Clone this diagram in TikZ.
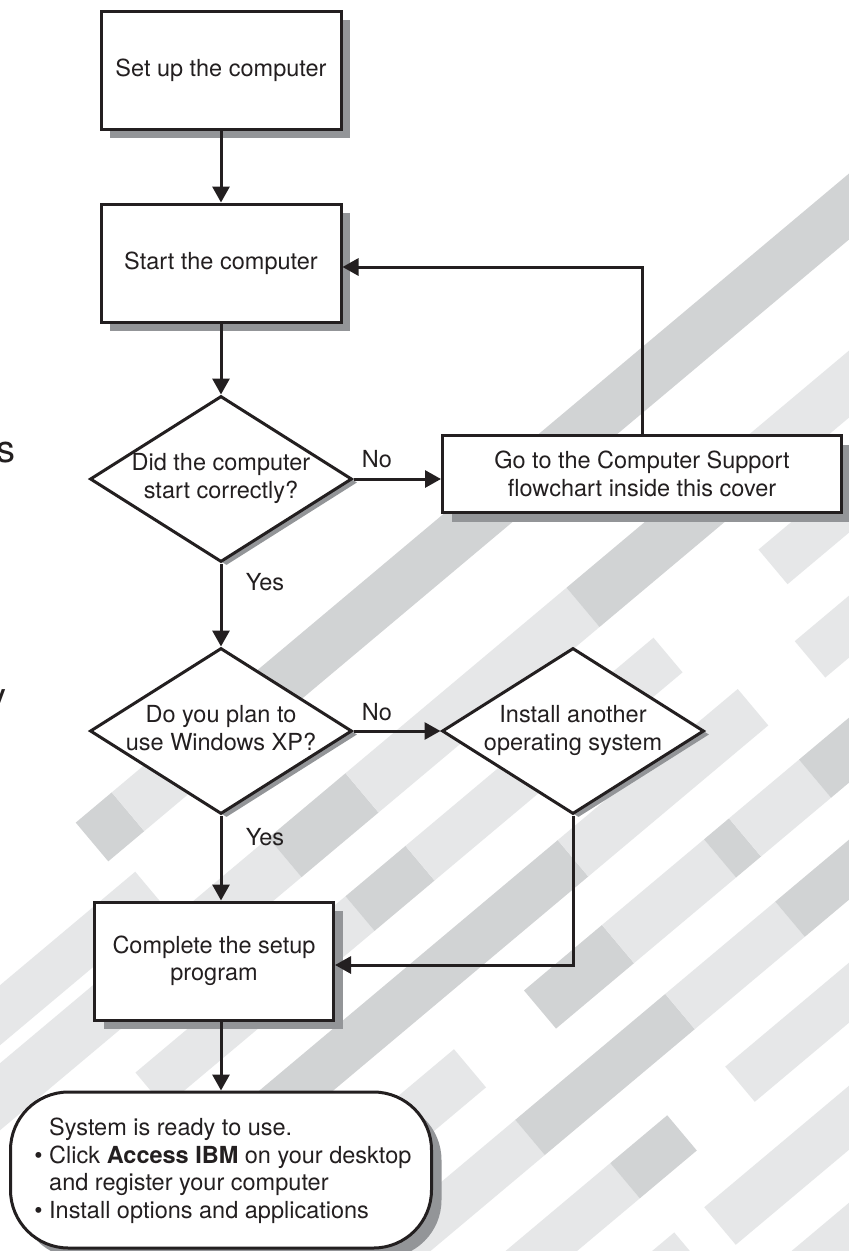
\documentclass[tikz,border=0pt]{standalone}
\usepackage{fontspec}
\setmainfont{TeX Gyre Heros}
\usetikzlibrary{arrows.meta,shapes.geometric,shadows}
\definecolor{ink}{HTML}{231F20}
\definecolor{shade}{HTML}{939598}
\definecolor{stripeD}{HTML}{D1D3D4}
\definecolor{stripeL}{HTML}{E6E7E8}
\newcommand\mainfs{\fontsize{23.5}{27.5}\selectfont}
\newcommand\bigfs{\fontsize{38}{44}\selectfont}
\newcommand\dtext[1]{\makebox[120pt]{\begin{tabular}{@{}c@{}}#1\end{tabular}}}
% stripe piece: colour, c1, c2 (c = y + 0.839 x), x of the two ends on the mid line
\newcommand\bgstripe[5]{%
  \pgfmathsetmacro\stM{(#2+#3)/2}%
  \pgfmathsetmacro\stUa{1.3055*#4-0.643*\stM}%
  \pgfmathsetmacro\stUb{1.3055*#5-0.643*\stM}%
  \pgfmathsetmacro\stVa{0.766*#2}%
  \pgfmathsetmacro\stVb{0.766*#3}%
  \fill[#1] ({0.766*\stUa+0.643*\stVa},{-0.643*\stUa+0.766*\stVa})
    -- ({0.766*\stUb+0.643*\stVa},{-0.643*\stUb+0.766*\stVa})
    -- ({0.766*\stUb+0.643*\stVb},{-0.643*\stUb+0.766*\stVb})
    -- ({0.766*\stUa+0.643*\stVb},{-0.643*\stUa+0.766*\stVb}) -- cycle;}
\begin{document}
\begin{tikzpicture}[x=1pt,y=-1pt,
  proc/.style={rectangle, draw=ink, line width=3pt, fill=white, text=ink,
    minimum width=240pt, minimum height=118pt, inner sep=0pt, align=center, font=\mainfs,
    drop shadow={shadow xshift=9pt, shadow yshift=-9pt, fill=shade, opacity=1}},
  decision/.style={diamond, aspect=1.57, draw=ink, line width=3pt, fill=white, text=ink,
    minimum width=262pt, minimum height=166pt, inner sep=0pt, font=\mainfs,
    drop shadow={shadow xshift=5.5pt, shadow yshift=-3.5pt, fill=shade, opacity=1}},
  endbox/.style={rectangle, rounded corners=58pt, draw=ink, line width=3pt, fill=white,
    minimum width=421pt, minimum height=156pt, inner sep=0pt,
    drop shadow={shadow xshift=10pt, shadow yshift=-10pt, fill=shade, opacity=1}},
  conn/.style={draw=ink, line width=3pt, -{Triangle[width=17pt,length=16pt]}},
  lbl/.style={text=ink, font=\mainfs, inner sep=0pt},
  frag/.style={text=ink, font=\bigfs, inner sep=0pt}]
\useasboundingbox (0,0) rectangle (849,1251);
\fill[white] (0,0) rectangle (849,1251);
\begin{scope}
\clip (0,0) rectangle (849,1251);
% band A
\bgstripe{stripeD}{886}{952}{92}{128}
\bgstripe{stripeL}{886}{952}{128}{230}
\bgstripe{stripeD}{886}{952}{230}{950}
% band between A and B (left only)
\bgstripe{stripeL}{985}{1045}{-100}{150}
% band B
\bgstripe{stripeL}{1063}{1130}{-100}{285}
\bgstripe{stripeD}{1063}{1130}{285}{362}
\bgstripe{stripeL}{1063}{1130}{362}{583}
\bgstripe{stripeD}{1063}{1130}{583}{740}
\bgstripe{stripeL}{1063}{1130}{740}{950}
% band C
\bgstripe{stripeL}{1186}{1245}{150}{360}
\bgstripe{stripeD}{1186}{1245}{360}{420}
\bgstripe{stripeL}{1186}{1245}{420}{668}
\bgstripe{stripeL}{1186}{1245}{773}{950}
% band H
\bgstripe{stripeD}{1308}{1370}{200}{573}
\bgstripe{stripeL}{1308}{1370}{573}{753}
\bgstripe{stripeL}{1308}{1370}{810}{950}
% band G
\bgstripe{stripeL}{1430}{1495}{300}{470}
\bgstripe{stripeD}{1430}{1495}{540}{618}
\bgstripe{stripeL}{1430}{1495}{618}{720}
\bgstripe{stripeD}{1430}{1495}{720}{745}
\bgstripe{stripeL}{1430}{1495}{745}{815}
\bgstripe{stripeD}{1430}{1495}{815}{950}
% band D
\bgstripe{stripeL}{1552}{1612}{330}{530}
\bgstripe{stripeD}{1552}{1612}{530}{680}
\bgstripe{stripeL}{1552}{1612}{680}{790}
\bgstripe{stripeD}{1552}{1612}{790}{950}
% band E
\bgstripe{stripeL}{1675}{1735}{380}{625}
\bgstripe{stripeD}{1675}{1735}{625}{682}
\bgstripe{stripeL}{1675}{1735}{740}{950}
% band F
\bgstripe{stripeL}{1798}{1862}{560}{690}
\bgstripe{stripeL}{1798}{1862}{720}{950}
% band I
\bgstripe{stripeL}{1915}{1980}{780}{950}
\end{scope}

% cut-off text at the left edge
\node[frag, anchor=base east] (fragS) at (16,462) {s};
\node[frag, anchor=base east] (fragY) at (7,709) {y};

% nodes
\node[proc] (b1) at (221,70) {Set up the computer};
\node[proc] (b2) at (221,263) {Start the computer};
\node[decision] (d1) at (221,479) {\dtext{Did the computer\\start correctly?}};
\node[proc, minimum width=399pt, minimum height=77pt] (b3) at (642,474)
  {Go to the Computer Support\\flowchart inside this cover};
\node[decision] (d2) at (221,731) {\dtext{Do you plan to\\use Windows XP?}};
\node[decision] (d3) at (573,731) {\dtext{Install another\\operating system}};
\node[proc, minimum width=239pt] (b4) at (214,961) {Complete the setup\\program};
\node[endbox] (done) at (221,1170) {};
\node[lbl, anchor=west, align=left] (donetxt) at (49,1171)
  {System is ready to use.\\
   \llap{\textbullet\ }Click \textbf{Access IBM} on your desktop\\
   and register your computer\\
   \llap{\textbullet\ }Install options and applications};

% labels
\node[lbl] (no1) at (377,459) {No};
\node[lbl] (yes1) at (265,582) {Yes};
\node[lbl] (no2) at (377,712) {No};
\node[lbl] (yes2) at (265,837) {Yes};

% connectors
\draw[conn] (b1) -- (b2);
\draw[conn] (b2) -- (d1);
\draw[conn] (d1.east) -- (d1.east -| b3.west);
\draw[conn] (b3.north) |- ([yshift=-4pt]b2.east);
\draw[conn] (d1.south) -- (d2.north);
\draw[conn] (d2.east) -- (d3.west);
\draw[conn] (d2.south) -- (d2.south |- b4.north);
\draw[conn] (d3.south) |- ([yshift=-4pt]b4.east);
\draw[conn] (d2.south |- b4.south) -- (done.north);
\end{tikzpicture}
\end{document}
